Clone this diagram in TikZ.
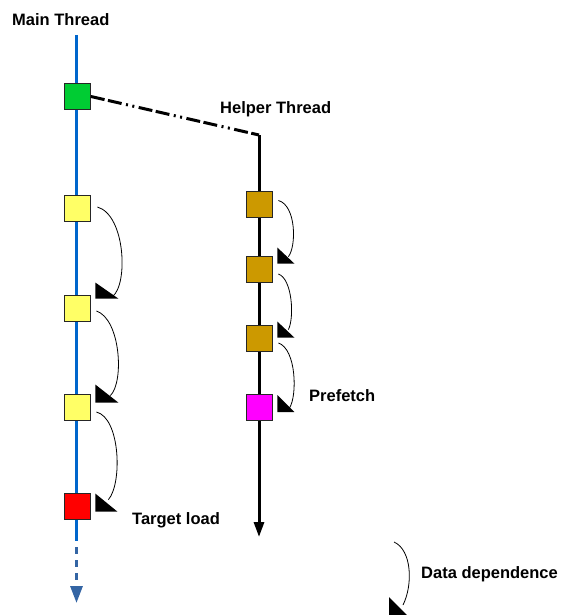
\documentclass[tikz,border=0pt]{standalone}
\usepackage{fontspec}
\setmainfont{Liberation Sans}
\usetikzlibrary{arrows.meta}
\definecolor{mainblue}{RGB}{0,102,204}
\definecolor{dashblue}{RGB}{52,101,164}
\definecolor{spawngreen}{RGB}{0,204,51}
\definecolor{workyellow}{RGB}{255,255,102}
\definecolor{loadred}{RGB}{255,0,0}
\definecolor{helpgold}{RGB}{204,153,0}
\definecolor{pfmagenta}{RGB}{255,0,255}
\newcommand{\dephead}[3]{\fill (#1) -- ++(0,#2) -- ++(#3,0) -- cycle;}

\begin{document}
\begin{tikzpicture}[x=1pt,y=-1pt,
  sq/.style={draw=black!85,line width=0.8pt,minimum size=26pt,inner sep=0pt},
  lbl/.style={font=\bfseries\fontsize{16.5}{18}\selectfont,inner sep=0pt,anchor=base west},
  dep/.style={line width=0.8pt}]
\useasboundingbox (0,0) rectangle (562,615);
% Main thread
\coordinate (mtop) at (76.5,35); % main line top
\coordinate (mend) at (76.5,541); % end of solid part
\coordinate (mtip) at (76.5,603); % arrow tip
\draw[mainblue,line width=3pt] (mtop) -- (mend);
\draw[dashblue,line width=3pt,dash pattern=on 7pt off 6pt,dash phase=7pt,-{Triangle[width=12pt,length=17pt]}] (mend) -- (mtip);
\node[sq,fill=spawngreen] (g) at (77.5,96.5) {};
\node[sq,fill=workyellow] (y1) at (77.5,208.5) {};
\node[sq,fill=workyellow] (y2) at (77.5,308) {};
\node[sq,fill=workyellow] (y3) at (77.5,407.5) {};
\node[sq,fill=loadred] (ld) at (77.5,506) {};
% Helper thread
\coordinate (hfork) at (259,135); % spawn corner
\coordinate (hend) at (259,537); % arrow tip
\draw[line width=3pt,dash pattern=on 14pt off 3.5pt on 14pt off 4.5pt on 2pt off 4.5pt on 2pt off 4.5pt] (g.east) -- (hfork);
\draw[line width=3pt,-{Triangle[width=10pt,length=15pt]}] (hfork) -- (hend);
\node[sq,fill=helpgold] (h1) at (259,204.5) {};
\node[sq,fill=helpgold] (h2) at (259,269) {};
\node[sq,fill=helpgold] (h3) at (259,338.5) {};
\node[sq,fill=pfmagenta] (pf) at (259,407.5) {};
% Dependences
\draw[dep] ([shift={(6.5,-1.5)}]y1.east) .. controls +(28,8) and +(16,-12) .. ([shift={(21.5,2)}]y2.north east);
\dephead{[shift={(4.5,-12)}]y2.north east}{16}{23}
\draw[dep] ([shift={(5.5,3)}]y2.east) .. controls +(24,8) and +(14,-14) .. ([shift={(19.5,1.5)}]y3.north east);
\dephead{[shift={(4.5,-9.5)}]y3.north east}{18}{23}
\draw[dep] ([shift={(5.5,4.5)}]y3.east) .. controls +(24,6) and +(14,-16) .. ([shift={(17.5,7)}]ld.north east);
\dephead{[shift={(4.5,1)}]ld.north east}{18}{22}
\draw[dep] ([shift={(6,-4)}]h1.east) .. controls +(18,5) and +(8,-10) .. ([shift={(16,1)}]h2.north east);
\dephead{[shift={(5,-8)}]h2.north east}{16}{17}
\draw[dep] ([shift={(6,5)}]h2.east) .. controls +(14,5) and +(6,-12) .. ([shift={(16,4.5)}]h3.north east);
\dephead{[shift={(5,-3.5)}]h3.north east}{16}{17}
\draw[dep] ([shift={(6,4.5)}]h3.east) .. controls +(18,6) and +(8,-12) .. ([shift={(17,14)}]pf.north east);
\dephead{[shift={(5,1)}]pf.north east}{17}{17}
% Legend
\coordinate (ls) at (394,542);
\coordinate (le) at (403,605);
\coordinate (lh) at (389,597);
\draw[dep] (ls) .. controls +(18,8) and +(10,-20) .. (le);
\dephead{lh}{18}{18}
% Labels
\node[lbl] (mt) at (12,25.3) {Main Thread};
\node[lbl] (ht) at (220,113.3) {Helper Thread};
\node[lbl] (tl) at (132,524.3) {Target load};
\node[lbl] (pfl) at (309,401.7) {Prefetch};
\node[lbl] (dd) at (421,578.3) {Data dependence};
\end{tikzpicture}
\end{document}
